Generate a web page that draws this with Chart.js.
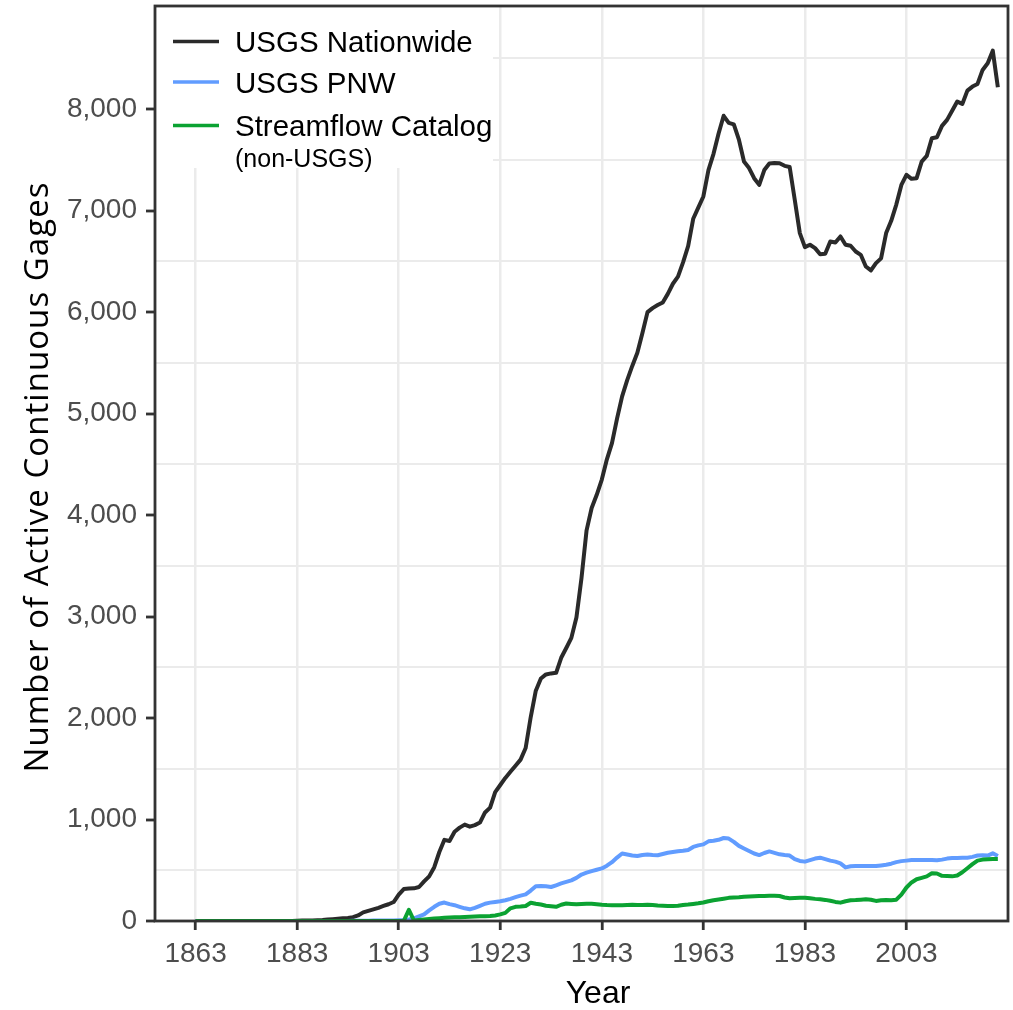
<!DOCTYPE html>
<html>
<head>
<meta charset="utf-8">
<script src="https://cdn.jsdelivr.net/npm/chart.js@4.4.1/dist/chart.umd.min.js"></script>
<style>
  html, body { margin: 0; padding: 0; background: #ffffff; }
  #wrap { width: 1013px; height: 1010px; }
</style>
</head>
<body>
<div id="wrap"><canvas id="gages" width="1013" height="1010"></canvas></div>
<script>
// Active continuous streamflow gages per year, 1863-2021
const firstYear = 1863;
const lastYear = 2021;
const years = Array.from({ length: lastYear - firstYear + 1 }, (_, i) => firstYear + i);

const usgsNationwide = [
  0, 0, 0, 0, 0, 0, 0,                                          // 1863-1869
  0, 0, 0, 0, 0, 0, 0, 0, 0, 0,                                 // 1870s
  0, 0, 0, 3, 4, 5, 6, 8, 10, 15,                               // 1880s
  18, 22, 26, 30, 38, 55, 85, 100, 115, 130,                    // 1890s
  148, 165, 187, 260, 315, 320, 322, 335, 390, 440,             // 1900s
  530, 680, 800, 788, 880, 920, 950, 930, 945, 970,             // 1910s
  1070, 1117, 1270, 1340, 1410, 1470, 1530, 1590, 1705, 2010,   // 1920s
  2270, 2390, 2430, 2440, 2446, 2594, 2690, 2790, 2990, 3380,   // 1930s
  3850, 4070, 4200, 4350, 4550, 4710, 4950, 5170, 5330, 5470,   // 1940s
  5600, 5794, 6000, 6040, 6070, 6096, 6180, 6280, 6350, 6490,   // 1950s
  6650, 6920, 7030, 7140, 7400, 7560, 7760, 7935, 7865, 7850,   // 1960s
  7700, 7484, 7420, 7320, 7254, 7400, 7465, 7470, 7468, 7442,   // 1970s
  7430, 7107, 6779, 6641, 6664, 6631, 6570, 6575, 6697, 6687,   // 1980s
  6746, 6664, 6654, 6598, 6565, 6450, 6411, 6483, 6530, 6779,   // 1990s
  6900, 7060, 7254, 7353, 7314, 7320, 7484, 7540, 7714, 7724,   // 2000s
  7836, 7895, 7985, 8075, 8052, 8183, 8223, 8249, 8387, 8453,   // 2010s
  8577, 8217                                                    // 2020-2021
];

const usgsPNW = [
  0, 0, 0, 0, 0, 0, 0,
  0, 0, 0, 0, 0, 0, 0, 0, 0, 0,
  0, 0, 0, 0, 0, 0, 0, 0, 0, 0,
  0, 0, 1, 1, 2, 2, 3, 3, 4, 4,
  5, 5, 6, 8, 10, 15, 25, 45, 65, 105,
  140, 170, 182, 166, 156, 140, 125, 115, 130, 150,
  170, 181, 188, 195, 205, 218, 235, 250, 262, 300,
  343, 345, 342, 335, 352, 370, 385, 400, 425, 458,
  476, 492, 505, 518, 545, 580, 625, 665, 655, 645,
  640, 650, 655, 650, 648, 660, 672, 680, 688, 692,
  700, 730, 745, 755, 785, 790, 800, 818, 812, 780,
  740, 715, 690, 665, 650, 670, 686, 672, 657, 650,
  645, 610, 592, 585, 600, 615, 624, 610, 595, 585,
  568, 528, 540, 542, 542, 542, 542, 542, 548, 555,
  565, 580, 590, 595, 601, 601, 601, 601, 600, 598,
  605, 615, 620, 622, 624, 624, 632, 645, 647, 645,
  667, 640
];

const streamflowCatalog = [
  0, 0, 0, 0, 0, 0, 0,
  0, 0, 0, 0, 0, 0, 0, 0, 0, 0,
  0, 0, 0, 0, 0, 0, 0, 0, 0, 0,
  0, 0, 0, 0, 0, 0, 0, 0, 0, 0,
  0, 0, 0, 0, 2, 110, 5, 10, 15, 20,
  24, 28, 32, 34, 36, 38, 40, 42, 44, 46,
  48, 50, 55, 65, 80, 125, 140, 142, 148, 180,
  170, 162, 150, 145, 140, 160, 172, 168, 165, 168,
  170, 170, 165, 160, 157, 156, 155, 156, 158, 160,
  158, 158, 160, 157, 152, 150, 148, 148, 150, 158,
  162, 168, 174, 182, 195, 205, 212, 220, 228, 232,
  235, 240, 242, 245, 246, 246, 248, 248, 246, 232,
  224, 226, 228, 230, 225, 218, 214, 208, 200, 188,
  181, 195, 204, 206, 210, 214, 210, 198, 204, 207,
  205, 210, 260, 330, 380, 411, 425, 440, 470, 468,
  445, 443, 440, 448, 480, 520, 560, 595, 605, 608,
  610, 610
];

const xTickYears = [1863, 1883, 1903, 1923, 1943, 1963, 1983, 2003];
const yTickValues = [0, 1000, 2000, 3000, 4000, 5000, 6000, 7000, 8000];
const yGridValues = [500, 1500, 2500, 3500, 4500, 5500, 6500, 7500, 8500];

const seriesNames = ['USGS Nationwide', 'USGS PNW', 'Streamflow Catalog'];
const catalogNote = '(non-USGS)';
const seriesColors = ['#2a2a2a', '#619CFF', '#0BA232'];
const xTitle = 'Year';
const yTitle = 'Number of Active Continuous Gages';

const TICK_FONT = { family: 'Liberation Sans', size: 28 };
const TICK_COLOR = '#4D4D4D';
const FRAME_COLOR = '#333333';
const GRID_COLOR = '#EBEBEB';
const LINE_WIDTH = 4;

function toPoints(values) {
  return values.map((v, i) => ({ x: years[i], y: v }));
}

// Legend box, panel frame and axis titles
const panelDecor = {
  id: 'panelDecor',
  beforeDatasetsDraw(chart) {
    const { ctx, chartArea: a } = chart;
    ctx.save();
    ctx.fillStyle = '#ffffff';
    ctx.fillRect(a.left, a.top, 493 - a.left, 168 - a.top);
    ctx.restore();
  },
  afterDraw(chart) {
    const { ctx, chartArea: a } = chart;
    ctx.save();
    // frame
    ctx.strokeStyle = FRAME_COLOR;
    ctx.lineWidth = 2.8;
    ctx.strokeRect(a.left, a.top, a.right - a.left, a.bottom - a.top);

    // legend
    const keyY = [52, 92.5, 136];
    ctx.font = '29.5px "Liberation Sans"';
    ctx.textAlign = 'left';
    ctx.textBaseline = 'alphabetic';
    for (let i = 0; i < seriesNames.length; i++) {
      ctx.strokeStyle = seriesColors[i];
      ctx.lineWidth = LINE_WIDTH - 0.5;
      ctx.beginPath();
      ctx.moveTo(173, keyY[i] - 10.5);
      ctx.lineTo(219, keyY[i] - 10.5);
      ctx.stroke();
      ctx.fillStyle = '#000000';
      ctx.fillText(seriesNames[i], 235, keyY[i]);
    }
    ctx.font = '25px "Liberation Sans"';
    ctx.fillText(catalogNote, 235, 167);

    // axis titles
    ctx.fillStyle = '#000000';
    ctx.font = '32px "Liberation Sans"';
    ctx.textAlign = 'center';
    ctx.fillText(xTitle, 598, 1003);

    ctx.translate(48, 477);
    ctx.rotate(-Math.PI / 2);
    ctx.font = '33px "Open Sans"';
    const natural = ctx.measureText(yTitle).width;
    const spacing = Math.max(0, Math.min(3, (590 - natural) / (yTitle.length - 1)));
    ctx.letterSpacing = spacing.toFixed(2) + 'px';
    ctx.fillText(yTitle, 0, 0);
    ctx.restore();
  }
};

new Chart(document.getElementById('gages'), {
  type: 'line',
  data: {
    datasets: [
      { label: seriesNames[0], data: toPoints(usgsNationwide), borderColor: seriesColors[0], borderWidth: LINE_WIDTH, order: 3 },
      { label: seriesNames[1], data: toPoints(usgsPNW), borderColor: seriesColors[1], borderWidth: LINE_WIDTH, order: 2 },
      { label: seriesNames[2], data: toPoints(streamflowCatalog), borderColor: seriesColors[2], borderWidth: LINE_WIDTH, order: 1 }
    ]
  },
  options: {
    responsive: false,
    animation: false,
    devicePixelRatio: 1,
    layout: { padding: { left: 0, right: 5, top: 6, bottom: 0 } },
    plugins: { legend: { display: false }, tooltip: { enabled: false } },
    elements: {
      point: { radius: 0 },
      line: { tension: 0, borderJoinStyle: 'round', borderCapStyle: 'butt', fill: false }
    },
    scales: {
      x: {
        type: 'linear',
        min: 1855,
        max: 2023,
        border: { display: false },
        grid: {
          color: GRID_COLOR,
          lineWidth: 2.5,
          tickLength: 9,
          tickColor: FRAME_COLOR,
          tickWidth: 2.8
        },
        ticks: {
          font: TICK_FONT,
          color: TICK_COLOR,
          padding: 7,
          autoSkip: false,
          maxRotation: 0,
          callback: v => String(v)
        },
        afterBuildTicks: s => { s.ticks = xTickYears.map(v => ({ value: v })); },
        afterFit: s => { s.height = 89; s.paddingLeft = 0; s.paddingRight = 0; }
      },
      y: {
        type: 'linear',
        min: 0,
        max: 9017,
        border: { display: false },
        grid: {
          color: c => (c.tick && yGridValues.includes(c.tick.value)) ? GRID_COLOR : 'rgba(0,0,0,0)',
          lineWidth: 2,
          tickLength: 9,
          tickColor: c => (c.tick && yTickValues.includes(c.tick.value)) ? FRAME_COLOR : 'rgba(0,0,0,0)',
          tickWidth: 2.8
        },
        ticks: {
          font: TICK_FONT,
          color: TICK_COLOR,
          padding: 9,
          autoSkip: false,
          callback: v => yTickValues.includes(v) ? v.toLocaleString('en-US') : ''
        },
        afterBuildTicks: s => {
          s.ticks = yTickValues.concat(yGridValues).sort((p, q) => p - q).map(v => ({ value: v }));
        },
        afterFit: s => { s.width = 155; s.paddingTop = 0; s.paddingBottom = 0; }
      }
    }
  },
  plugins: [panelDecor]
});
</script>
</body>
</html>
